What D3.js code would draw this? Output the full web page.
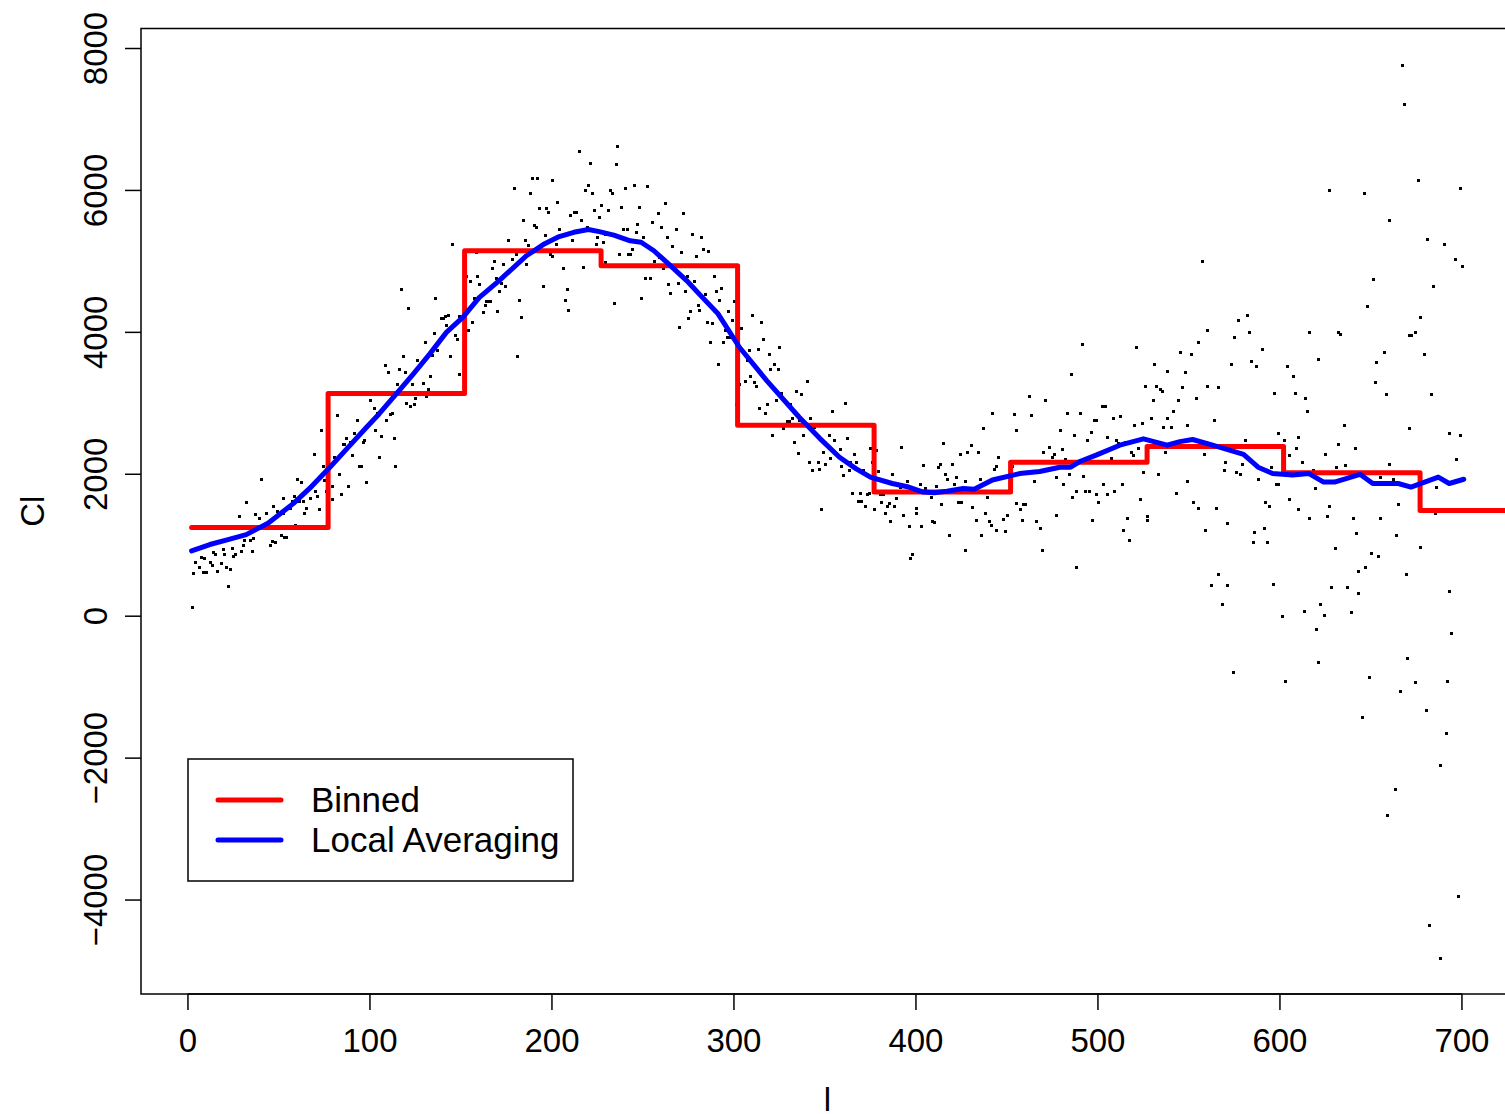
<!DOCTYPE html>
<html>
<head>
<meta charset="utf-8">
<script src="https://cdn.jsdelivr.net/npm/d3@7"></script>
<style>
  html, body { margin: 0; padding: 0; background: #fff; }
  svg { display: block; font-family: "Liberation Sans", Arial, sans-serif; }
</style>
</head>
<body>
<script>
// scatter: [l, Cl]
const scatter = [
  [2,130],[3,610],[4,760],[6,690],[7,830],[8,620],[9,820],[10,620],[12,760],[13,720],[14,900],[15,870],[16,630],[18,750],[19,940],[20,870],[21,700],[22,420],[23,660],[24,960],
  [25,850],[26,870],[28,1410],[29,920],[30,1000],[31,1070],[32,1610],[34,1070],[35,920],[36,1100],[37,1440],[39,1380],[40,1930],[43,1460],[45,1000],[46,1060],[47,1560],[48,1040],[49,1480],[51,1140],
  [52,1660],[52,1460],[53,1110],[54,1110],[56,1520],[57,1620],[58,1700],[59,1280],[60,1930],[61,1630],[62,1890],[63,1630],[64,1450],[65,1520],[67,1660],[69,2290],[70,1760],[71,1690],[72,1510],[73,2630],
  [74,2110],[75,1920],[76,1760],[79,1830],[79,1650],[80,2250],[82,2830],[83,2000],[84,1720],[85,2420],[86,2420],[87,2510],[88,1840],[89,2450],[90,2270],[91,2580],[93,2770],[94,2110],[95,2110],[96,2450],
  [97,2480],[98,1890],[100,3040],[102,2940],[103,2630],[104,2870],[105,2240],[106,2540],[108,3540],[109,2770],[110,3440],[111,2850],[112,2870],[113,2510],[114,2110],[115,3270],[116,3480],[117,4610],[118,3660],[119,3440],
  [120,3010],[121,4340],[122,2960],[123,3270],[124,2990],[125,3080],[126,3610],[129,3280],[130,3860],[131,3100],[132,3200],[133,3390],[134,3680],[135,3990],[136,4480],[137,3750],[139,4200],[140,4200],[141,4230],[142,4100],
  [143,4250],[144,3660],[145,5240],[147,3960],[148,3900],[149,4230],[149,3410],[153,4790],[154,4040],[155,4730],[156,4140],[157,4490],[158,5130],[159,4790],[160,4680],[162,4280],[163,4390],[164,4440],[165,4440],[166,4440],
  [167,4900],[168,5000],[169,4760],[170,4300],[171,4580],[172,4690],[173,4960],[174,4650],[176,5300],[178,5040],[179,6040],[180,5100],[181,3660],[182,4460],[183,4210],[184,5580],[185,5300],[186,4970],[187,5230],[188,5960],
  [189,6170],[190,5510],[191,5480],[192,6180],[193,5750],[195,4660],[196,5370],[197,5750],[198,5700],[199,5110],[200,6150],[200,5080],[202,5250],[203,5830],[204,5450],[206,4900],[207,4450],[208,4610],[209,4310],[210,5660],
  [211,5300],[212,5700],[213,5700],[215,6550],[216,5590],[217,4920],[218,6010],[219,5490],[220,6070],[221,6390],[222,5970],[223,5730],[224,5240],[225,5340],[226,5630],[227,5800],[228,5270],[229,5390],[229,4990],[231,5730],
  [232,6000],[233,5970],[234,4420],[235,6370],[236,6620],[237,5100],[238,5760],[239,5450],[240,6040],[241,5450],[242,5110],[243,5110],[244,5180],[245,6070],[246,5420],[247,5520],[248,5760],[249,4480],[250,5350],[251,4770],
  [252,6060],[254,4770],[255,5550],[256,5010],[258,5680],[259,5060],[260,5490],[261,4900],[262,5820],[263,5340],[264,4680],[265,4560],[266,5210],[268,5450],[268,4870],[269,4690],[270,4080],[271,5130],[272,5680],[273,4580],
  [274,4800],[275,4200],[276,4300],[277,5380],[278,4730],[279,5070],[280,4390],[281,4310],[282,5340],[283,5180],[284,4540],[285,4140],[286,5150],[287,3860],[288,4130],[289,4790],[290,4580],[291,3550],[292,4450],[293,4620],
  [294,3860],[295,4030],[296,3940],[297,4300],[298,3930],[299,4170],[300,4440],[301,2990],[303,3270],[304,4060],[306,3320],[307,3610],[308,3750],[309,3380],[310,4250],[311,3300],[312,3250],[313,3760],[314,2940],[315,4140],
  [316,3900],[317,2860],[318,2990],[319,3690],[320,3490],[321,2550],[322,3560],[323,3040],[324,3480],[325,3800],[326,3150],[327,2650],[329,2750],[330,2750],[331,2990],[332,2800],[333,2460],[334,3170],[335,2300],[336,2760],
  [337,3130],[338,2560],[340,3320],[341,2180],[342,2790],[343,2060],[344,2660],[346,2170],[347,2070],[348,1510],[349,2320],[350,2150],[352,2560],[353,2230],[354,2890],[355,2480],[358,2350],[359,2110],[360,1990],[361,3010],
  [362,2510],[363,2060],[364,2180],[365,1730],[366,2290],[367,2170],[368,1630],[369,1730],[370,1620],[371,2060],[372,1560],[373,1720],[374,1730],[375,2370],[376,2170],[377,1510],[378,2340],[379,2040],[380,1720],[381,1610],
  [382,1720],[383,1450],[384,1550],[385,1590],[386,1340],[387,2000],[388,1560],[389,1660],[391,1820],[392,2390],[393,1420],[395,1900],[396,1270],[397,820],[398,870],[400,1450],[400,1520],[402,1870],[403,1270],[404,2130],
  [405,1800],[408,1680],[409,1340],[410,1330],[411,1830],[412,2100],[413,2140],[414,1580],[415,2440],[416,2000],[417,1930],[418,1150],[420,2140],[421,1870],[422,1960],[423,1610],[424,2280],[425,1610],[427,1900],[427,930],
  [428,2320],[430,2410],[431,1540],[433,1350],[434,2320],[435,1930],[436,1150],[437,2650],[438,1450],[439,1680],[440,1340],[441,1280],[442,2870],[443,2080],[444,2110],[444,1210],[445,2240],[448,1370],[449,1200],[450,1420],
  [453,2110],[454,2850],[455,2630],[455,1590],[457,1510],[458,1350],[459,1580],[460,1580],[462,3110],[463,2830],[465,1900],[466,1340],[468,1250],[468,2170],[469,930],[470,2310],[471,3050],[473,2390],[475,2240],[476,2280],
  [477,1960],[477,1420],[479,2620],[480,2350],[481,1870],[482,2210],[483,2870],[484,2000],[485,3410],[486,1680],[487,2550],[488,1760],[488,690],[490,2860],[491,3840],[492,1970],[493,1760],[494,2490],[495,1760],[496,2590],
  [497,1350],[498,2770],[499,2770],[499,1720],[500,1610],[502,2960],[503,1870],[504,2960],[505,2520],[505,1720],[507,2230],[508,2800],[509,1770],[510,2490],[511,2440],[512,2820],[513,1860],[514,1210],[515,2450],[516,1380],
  [517,1070],[518,2310],[519,2270],[520,2700],[521,3790],[522,2370],[523,1650],[524,2720],[525,2030],[526,3250],[527,1410],[527,1350],[529,2790],[530,3040],[531,3560],[532,3250],[533,2000],[534,3200],[535,3180],[536,2660],
  [537,2310],[538,3450],[538,2800],[540,2670],[541,2890],[543,1730],[544,3040],[545,3730],[546,3230],[548,3440],[549,2700],[549,1900],[551,3700],[552,1610],[554,3070],[555,3870],[555,1520],[557,5000],[558,2280],[559,1210],
  [560,4040],[560,3240],[562,440],[564,2770],[565,1520],[566,3230],[566,600],[568,170],[569,2060],[570,2170],[571,1310],[571,440],[573,3560],[574,-780],[575,3940],[576,2030],[577,4180],[578,2010],[579,2140],[581,2490],
  [582,4250],[583,4010],[584,3590],[585,1040],[586,1180],[587,3520],[588,1940],[590,3760],[591,1240],[592,1610],[593,1040],[594,1560],[595,2100],[596,450],[597,3140],[598,1870],[599,2580],[599,1870],[601,0],[602,2490],
  [603,-920],[604,3520],[605,2270],[605,1650],[607,3390],[608,3140],[609,2370],[610,2520],[610,1510],[612,2170],[613,70],[614,3070],[615,2890],[616,4010],[616,1380],[618,2060],[619,1800],[620,-180],[621,3630],[621,-650],
  [622,170],[624,15],[625,2290],[626,1410],[627,6010],[627,1550],[628,410],[630,960],[631,2100],[632,4010],[632,2420],[633,3970],[635,2690],[636,2130],[637,410],[639,60],[640,1390],[641,2370],[642,1170],[643,630],
  [643,320],[645,-1420],[646,5970],[647,700],[648,4370],[649,-860],[650,890],[651,4750],[652,3300],[653,3580],[654,845],[655,1960],[655,1380],[657,3730],[658,3130],[659,-2800],[660,5590],[660,2150],[662,1930],[663,-2430],
  [664,1140],[665,1580],[666,-1060],[667,7770],[668,7225],[669,590],[670,-590],[671,3960],[671,2650],[672,3960],[674,4010],[674,-930],[676,6150],[677,4210],[677,970],[679,3700],[680,-1320],[681,5310],[682,-4350],[683,3130],
  [684,4650],[685,1450],[686,1820],[688,-2100],[688,-4820],[690,5250],[691,-1650],[692,-920],[693,2580],[693,350],[694,-230],[696,5040],[697,2210],[698,-3940],[699,6030],[699,2560],[700,4930]
];

// binned averages
const binEdges = [2, 77, 152, 227, 302, 377, 452, 527, 602, 677, 752];
const binValues = [1250, 3140, 5150, 4940, 2690, 1750, 2170, 2390, 2020, 1490];

// local averaging curve: [l, Cl]
const localAvg = [
  [2,920],[12,1010],[22,1080],[32,1150],[44,1310],[58,1590],[68,1830],[78,2100],[88,2380],[98,2660],
  [105,2850],[116,3180],[124,3420],[133,3700],[142,4000],[151,4210],[160,4490],[171,4730],[186,5080],[196,5250],
  [204,5350],[212,5410],[220,5450],[226,5420],[234,5370],[243,5290],[249,5270],[256,5150],[263,4990],[274,4730],
  [282,4510],[291,4270],[303,3790],[318,3320],[336,2800],[347,2510],[358,2240],[367,2080],[375,1960],[387,1870],
  [396,1820],[404,1750],[410,1740],[417,1760],[426,1800],[432,1790],[442,1920],[457,2010],[468,2040],[479,2100],
  [485,2100],[490,2180],[499,2270],[512,2410],[525,2500],[538,2410],[545,2460],[552,2490],[563,2410],[575,2320],
  [580,2280],[588,2100],[596,2010],[607,1990],[616,2010],[624,1890],[630,1890],[644,2000],[651,1870],[665,1870],
  [672,1820],[687,1960],[693,1870],[701,1930]
];

const xTicks = [0, 100, 200, 300, 400, 500, 600, 700];
const yTicks = [-4000, -2000, 0, 2000, 4000, 6000, 8000];
const legendItems = [
  { label: "Binned", color: "#ff0000" },
  { label: "Local Averaging", color: "#0000ff" }
];

const W = 1505, H = 1114;
const plot = { left: 141, right: 1514, top: 28.5, bottom: 994 };
const fontSize = 33;

const x = d3.scaleLinear().domain([-25.8, 728.6]).range([plot.left, plot.right]);
const y = d3.scaleLinear().domain([-5324, 8282]).range([plot.bottom, plot.top]);

let svg = d3.select("body").append("svg")
  .attr("width", W)
  .attr("height", H);

svg.append("defs").append("clipPath")
  .attr("id", "plot-clip")
  .append("rect")
  .attr("x", plot.left)
  .attr("y", plot.top)
  .attr("width", plot.right - plot.left)
  .attr("height", plot.bottom - plot.top);

let inner = svg.append("g").attr("clip-path", "url(#plot-clip)");

// points, snapped to whole pixels so they stay crisp
inner.append("g")
  .selectAll("rect")
  .data(scatter)
  .join("rect")
  .attr("x", d => Math.round(x(d[0])) - 1)
  .attr("y", d => Math.round(y(d[1])) - 1)
  .attr("width", 3)
  .attr("height", 3)
  .attr("fill", "#000");

// binned step line
let stepPts = binValues.map((v, i) => [binEdges[i], v]);
stepPts.push([binEdges[binEdges.length - 1], binValues[binValues.length - 1]]);
inner.append("path")
  .datum(stepPts)
  .attr("fill", "none")
  .attr("stroke", "#ff0000")
  .attr("stroke-width", 5)
  .attr("stroke-linejoin", "round")
  .attr("stroke-linecap", "round")
  .attr("d", d3.line().x(d => x(d[0])).y(d => y(d[1])).curve(d3.curveStepAfter));

// local averaging
inner.append("path")
  .datum(localAvg)
  .attr("fill", "none")
  .attr("stroke", "#0000ff")
  .attr("stroke-width", 5)
  .attr("stroke-linejoin", "round")
  .attr("stroke-linecap", "round")
  .attr("d", d3.line().x(d => x(d[0])).y(d => y(d[1])));

// box
svg.append("rect")
  .attr("x", plot.left)
  .attr("y", plot.top)
  .attr("width", plot.right - plot.left)
  .attr("height", plot.bottom - plot.top)
  .attr("fill", "none")
  .attr("stroke", "#000")
  .attr("stroke-width", 1.5);

// x axis
let xa = svg.append("g");
xa.append("line")
  .attr("x1", x(xTicks[0])).attr("x2", x(xTicks[xTicks.length - 1]))
  .attr("y1", plot.bottom).attr("y2", plot.bottom)
  .attr("stroke", "#000").attr("stroke-width", 1.5);
xa.selectAll("line.tick")
  .data(xTicks)
  .join("line")
  .attr("class", "tick")
  .attr("x1", d => x(d)).attr("x2", d => x(d))
  .attr("y1", plot.bottom).attr("y2", plot.bottom + 16)
  .attr("stroke", "#000").attr("stroke-width", 1.5);
xa.selectAll("text")
  .data(xTicks)
  .join("text")
  .attr("x", d => x(d))
  .attr("y", 1052)
  .attr("text-anchor", "middle")
  .attr("font-size", fontSize)
  .text(d => d);

// y axis
let ya = svg.append("g");
ya.selectAll("line.tick")
  .data(yTicks)
  .join("line")
  .attr("class", "tick")
  .attr("x1", plot.left - 16).attr("x2", plot.left)
  .attr("y1", d => y(d)).attr("y2", d => y(d))
  .attr("stroke", "#000").attr("stroke-width", 1.5);
ya.selectAll("text")
  .data(yTicks)
  .join("text")
  .attr("transform", d => `translate(107,${y(d)}) rotate(-90)`)
  .attr("text-anchor", "middle")
  .attr("font-size", fontSize)
  .text(d => d < 0 ? "\u2212" + Math.abs(d) : d);

// axis titles ("l" sits at the very bottom edge, as in the original)
svg.append("text")
  .attr("x", (plot.left + plot.right) / 2)
  .attr("y", 1111)
  .attr("text-anchor", "middle")
  .attr("font-size", fontSize)
  .text("l");
svg.append("text")
  .attr("transform", `translate(44,${(plot.top + plot.bottom) / 2}) rotate(-90)`)
  .attr("text-anchor", "middle")
  .attr("font-size", fontSize)
  .text("Cl");

// legend
let lg = svg.append("g");
lg.append("rect")
  .attr("x", 188).attr("y", 759)
  .attr("width", 385).attr("height", 122)
  .attr("fill", "#fff")
  .attr("stroke", "#000").attr("stroke-width", 1.5);
legendItems.forEach((item, i) => {
  let cy = 800 + i * 40;
  lg.append("line")
    .attr("x1", 218).attr("x2", 281)
    .attr("y1", cy).attr("y2", cy)
    .attr("stroke", item.color)
    .attr("stroke-width", 5)
    .attr("stroke-linecap", "round");
  lg.append("text")
    .attr("x", 311)
    .attr("y", cy + 12)
    .attr("font-size", 35)
    .text(item.label);
});
</script>
</body>
</html>
